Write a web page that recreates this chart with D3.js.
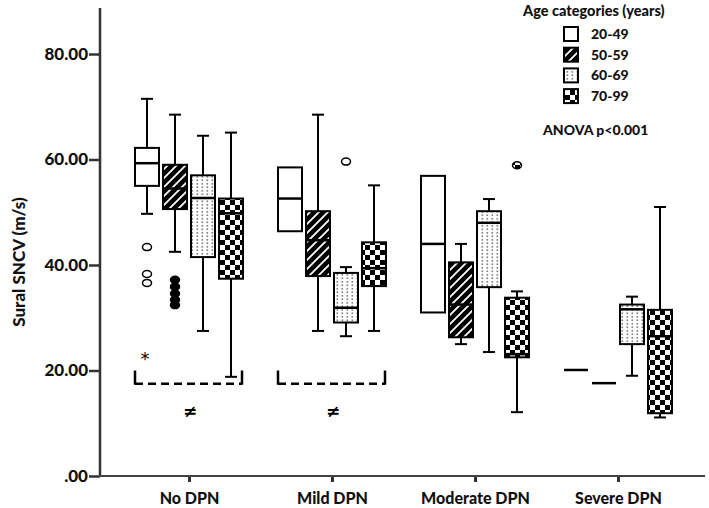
<!DOCTYPE html>
<html><head><meta charset="utf-8">
<script src="https://cdn.jsdelivr.net/npm/d3@7"></script>
<style>body{margin:0;background:#fff}svg{display:block}text{font-family:Lato,"Open Sans",sans-serif;font-weight:900}</style>
</head><body>
<svg id="c" width="709" height="508"></svg>
<script>
// ---- data ----
const categories = ["No DPN", "Mild DPN", "Moderate DPN", "Severe DPN"];
const ageGroups = ["20-49", "50-59", "60-69", "70-99"];
const yTicks = [0, 20, 40, 60, 80];
// each entry: [lowerWhisker, q1, median, q3, upperWhisker] per category
const box2049 = [[49.7, 55.0, 59.3, 62.2, 71.5], [46.4, 46.4, 52.6, 58.5, 58.5], [31.0, 31.0, 44.0, 56.9, 56.9], [20.1, 20.1, 20.1, 20.1, 20.1]];
const box5059 = [[42.5, 50.6, 54.5, 59.0, 68.5], [27.5, 37.9, 44.7, 50.2, 68.5], [25.0, 26.3, 32.5, 40.5, 44.0], [17.6, 17.6, 17.6, 17.6, 17.6]];
const box6069 = [[27.5, 41.5, 52.7, 57.0, 64.5], [26.5, 29.1, 31.9, 38.5, 39.6], [23.5, 35.8, 48.0, 50.2, 52.5], [19.0, 25.0, 31.6, 32.5, 34.0]];
const box7099 = [[18.8, 37.4, 49.8, 52.6, 65.1], [27.5, 36.0, 39.4, 44.3, 55.1], [12.1, 22.5, 23.1, 33.8, 35.0], [11.1, 11.9, 26.5, 31.5, 51.0]];
// outliers per category
const out2049 = [[43.4, 38.3, 36.6], [], [], []];
const out5059 = [[37.2, 35.9, 34.6, 33.4, 32.4], [], [], []];
const out6069 = [[], [59.6], [], []];
const out7099 = [[], [], [58.9], []];
const extreme2049 = [[22.9], [], [], []];
const legendTitle = "Age categories (years)";
const anovaText = "ANOVA p<0.001";

const boxes = [box2049, box5059, box6069, box7099];
const outliers = [out2049, out5059, out6069, out7099];
const extremes = [extreme2049, [[], [], [], []], [[], [], [], []], [[], [], [], []]];
const fills = ["#fff", "url(#hatch)", "url(#dots)", "url(#checker)"];

const svg = d3.select("#c");
const defs = svg.append("defs");
// hatch pattern
const ph = defs.append("pattern").attr("id", "hatch").attr("patternUnits", "userSpaceOnUse").attr("width", 9).attr("height", 9);
ph.append("rect").attr("width", 9).attr("height", 9).attr("fill", "#000");
ph.append("path").attr("d", "M-2,2 L2,-2 M0,9 L9,0 M7,11 L11,7").attr("stroke", "#fff").attr("stroke-width", 1.8);
// dots pattern
const pd = defs.append("pattern").attr("id", "dots").attr("patternUnits", "userSpaceOnUse").attr("width", 5).attr("height", 3.5);
pd.append("rect").attr("width", 5).attr("height", 3.5).attr("fill", "#fff");
pd.append("rect").attr("x", 1.5).attr("y", 1).attr("width", 1.6).attr("height", 1.6).attr("fill", "#777");
// checker
const pc = defs.append("pattern").attr("id", "checker").attr("patternUnits", "userSpaceOnUse").attr("width", 10).attr("height", 10);
pc.append("rect").attr("width", 10).attr("height", 10).attr("fill", "#fff");
pc.append("rect").attr("width", 5).attr("height", 5).attr("fill", "#000");
pc.append("rect").attr("x", 5).attr("y", 5).attr("width", 5).attr("height", 5).attr("fill", "#000");

const y = d3.scaleLinear().domain([0, 80]).range([476, 54]);
const x = d3.scalePoint().domain(categories).range([189, 618]);
const off = d3.scalePoint().domain(ageGroups).range([-42, 42]);
const bw = 24;

// axes
const gy = svg.append("g").attr("transform", "translate(100,0)")
  .call(d3.axisLeft(y).tickValues(yTicks).tickSize(11).tickFormat(d => d === 0 ? ".00" : d3.format(".2f")(d)));
gy.select(".domain").remove();
gy.selectAll(".tick line").attr("stroke", "#333").attr("stroke-width", 2.5);
gy.selectAll(".tick text").attr("font-size", 17).attr("fill", "#111").attr("x", -12);

const gx = svg.append("g").attr("transform", "translate(0,476)")
  .call(d3.axisBottom(x).tickSize(6));
gx.select(".domain").remove();
gx.selectAll(".tick line").attr("stroke", "#333").attr("stroke-width", 3);
gx.selectAll(".tick text").attr("font-size", 16).attr("fill", "#111").attr("dy", "1.2em");

svg.append("line").attr("x1", 100).attr("x2", 100).attr("y1", 8).attr("y2", 477).attr("stroke", "#333").attr("stroke-width", 2.5);
svg.append("line").attr("x1", 99).attr("x2", 705).attr("y1", 476).attr("y2", 476).attr("stroke", "#444").attr("stroke-width", 2);

svg.append("text").attr("transform", "translate(25,262) rotate(-90)").attr("text-anchor", "middle")
  .attr("font-size", 17).attr("fill", "#111").text("Sural SNCV (m/s)");

// boxes
ageGroups.forEach((ag, ai) => {
  categories.forEach((cat, ci) => {
    const s = boxes[ai][ci];
    const cx = x(cat) + off(ag);
    const g = svg.append("g");
    const [lo, q1, md, q3, hi] = s;
    if (q3 === q1) {
      g.append("line").attr("x1", cx - bw / 2).attr("x2", cx + bw / 2).attr("y1", y(md)).attr("y2", y(md)).attr("stroke", "#000").attr("stroke-width", 2.5);
      return;
    }
    const sw = 2;
    if (hi > q3) {
      g.append("line").attr("x1", cx).attr("x2", cx).attr("y1", y(hi)).attr("y2", y(q3)).attr("stroke", "#000").attr("stroke-width", sw);
      g.append("line").attr("x1", cx - 6).attr("x2", cx + 6).attr("y1", y(hi)).attr("y2", y(hi)).attr("stroke", "#000").attr("stroke-width", sw);
    }
    if (lo < q1) {
      g.append("line").attr("x1", cx).attr("x2", cx).attr("y1", y(q1)).attr("y2", y(lo)).attr("stroke", "#000").attr("stroke-width", sw);
      g.append("line").attr("x1", cx - 6).attr("x2", cx + 6).attr("y1", y(lo)).attr("y2", y(lo)).attr("stroke", "#000").attr("stroke-width", sw);
    }
    g.append("rect").attr("x", cx - bw / 2).attr("y", y(q3)).attr("width", bw).attr("height", y(q1) - y(q3))
      .attr("fill", fills[ai]).attr("stroke", "#000").attr("stroke-width", sw);
    g.append("line").attr("x1", cx - bw / 2).attr("x2", cx + bw / 2).attr("y1", y(md)).attr("y2", y(md)).attr("stroke", "#000").attr("stroke-width", 2.5);

    outliers[ai][ci].forEach(v => {
      const filled = ai === 1;
      g.append("ellipse").attr("cx", cx).attr("cy", y(v)).attr("rx", 4.5).attr("ry", 3.5)
        .attr("fill", filled ? "#000" : (ai === 3 ? "url(#checker)" : "#fff")).attr("stroke", "#000").attr("stroke-width", 1.5);
    });
    extremes[ai][ci].forEach(v => {
      g.append("text").attr("x", cx - 2).attr("y", y(v) + 10).attr("text-anchor", "middle")
        .style("font-family", "'DejaVu Sans'").style("font-weight", "normal")
        .attr("font-size", 18).attr("fill", "#000").text("*");
    });
  });
});

// brackets
const bracketCats = ["No DPN", "Mild DPN"];
bracketCats.forEach(cat => {
  const x0 = x(cat) + off(ageGroups[0]) - bw / 2;
  const x1 = x(cat) + off(ageGroups[3]) + bw / 2 - 1;
  const yb = y(17.5), yt = y(20.0);
  svg.append("line").attr("x1", x0).attr("x2", x0).attr("y1", yt).attr("y2", yb + 1).attr("stroke", "#000").attr("stroke-width", 2.5);
  svg.append("line").attr("x1", x1).attr("x2", x1).attr("y1", yt).attr("y2", yb + 1).attr("stroke", "#000").attr("stroke-width", 2.5);
  svg.append("line").attr("x1", x0).attr("x2", x1).attr("y1", yb).attr("y2", yb).attr("stroke", "#000").attr("stroke-width", 2.5)
    .attr("stroke-dasharray", "8,5");
  svg.append("text").attr("x", x(cat) + 1).attr("y", yb + 33).attr("text-anchor", "middle")
    .style("font-family", "'DejaVu Sans'").attr("font-size", 17).attr("fill", "#000").text("≠");
});

// legend
svg.append("text").attr("x", 523).attr("y", 16).attr("font-size", 14.5).attr("fill", "#111").text(legendTitle);
ageGroups.forEach((ag, i) => {
  const ly = 34 + i * 20.7;
  svg.append("rect").attr("x", 564).attr("y", ly - 7).attr("width", 14).attr("height", 14)
    .attr("fill", fills[i]).attr("stroke", "#000").attr("stroke-width", 2);
  svg.append("text").attr("x", 591).attr("y", ly + 5).attr("font-size", 14).attr("fill", "#111").text(ag);
});
svg.append("text").attr("x", 543).attr("y", 135).attr("font-size", 14).attr("fill", "#111").text(anovaText);
</script>
</body></html>
